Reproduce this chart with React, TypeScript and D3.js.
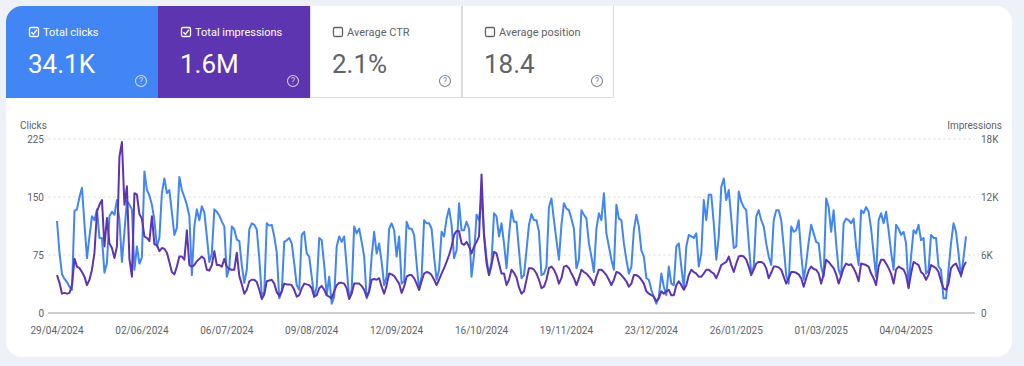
import React from "react";
import * as d3 from "d3";

const W = 1024;
const H = 366;

const startDateStr = "2024-04-29";

const clicks = [
  119, 78, 50, 44, 40, 34, 30, 132, 134, 150, 162, 115, 71, 99, 125, 120, 134, 97, 97, 52,
  65, 125, 131, 127, 146, 120, 66, 105, 145, 140, 134, 56, 86, 64, 72, 183, 159, 152, 140, 120,
  86, 97, 155, 174, 155, 159, 130, 101, 110, 176, 159, 150, 140, 125, 49, 112, 134, 120, 138, 130,
  99, 66, 77, 134, 131, 126, 118, 112, 47, 58, 112, 108, 95, 93, 62, 39, 56, 108, 116, 114,
  108, 71, 23, 27, 116, 113, 114, 99, 78, 19, 28, 92, 94, 97, 90, 64, 36, 30, 101, 105,
  77, 73, 47, 21, 34, 97, 94, 62, 23, 47, 12, 21, 86, 99, 92, 99, 60, 19, 30, 112,
  103, 109, 92, 73, 19, 28, 73, 105, 77, 90, 66, 36, 47, 109, 116, 107, 73, 99, 38, 41,
  118, 109, 109, 101, 64, 30, 47, 120, 116, 116, 109, 73, 43, 56, 105, 99, 122, 135, 114, 71,
  81, 142, 107, 107, 118, 109, 47, 75, 127, 120, 150, 103, 71, 49, 66, 129, 125, 99, 116, 90,
  58, 100, 133, 118, 118, 81, 45, 49, 81, 114, 128, 120, 120, 105, 49, 51, 60, 137, 148, 120,
  94, 69, 114, 142, 135, 133, 122, 109, 58, 69, 133, 127, 122, 90, 73, 53, 109, 129, 120, 155,
  103, 86, 69, 56, 140, 122, 120, 90, 69, 51, 60, 107, 127, 112, 81, 73, 45, 43, 30, 21,
  12, 21, 51, 34, 23, 60, 38, 36, 86, 90, 60, 32, 86, 101, 99, 97, 103, 60, 77, 146,
  120, 153, 153, 116, 69, 99, 163, 174, 146, 159, 122, 84, 86, 157, 144, 137, 133, 90, 51, 60,
  125, 133, 120, 112, 90, 73, 62, 120, 133, 133, 120, 86, 49, 38, 112, 105, 107, 120, 77, 43,
  64, 92, 114, 103, 92, 90, 60, 47, 148, 137, 105, 133, 90, 56, 47, 116, 122, 120, 116, 122,
  86, 62, 133, 129, 137, 131, 109, 77, 47, 120, 129, 116, 131, 107, 79, 56, 114, 109, 101, 105,
  90, 34, 73, 107, 103, 114, 94, 97, 51, 55, 101, 97, 97, 60, 56, 19, 19, 56, 90, 116,
  105, 77, 47, 71, 99,
];

const impressions = [
  3920, 3120, 2000, 2080, 2000, 2080, 2880, 5600, 4800, 4640, 4240, 3760, 2880, 3440, 4480, 6240, 10480, 11200, 11680, 6880,
  9840, 7200, 6720, 5680, 6880, 16160, 17680, 11200, 13120, 5600, 3760, 12400, 12240, 10240, 9760, 7920, 7760, 7440, 10000, 7120,
  7040, 6400, 6720, 6640, 6240, 5280, 4240, 4000, 4800, 5840, 5840, 5520, 8560, 4960, 4800, 4960, 5360, 5600, 5840, 5600,
  4480, 4400, 4960, 6400, 4960, 4960, 4800, 5600, 4800, 4560, 4480, 4480, 6240, 3840, 2960, 2000, 2400, 3280, 3440, 3440,
  3200, 2400, 1440, 1920, 3280, 3360, 3440, 3040, 2160, 1760, 2240, 3040, 2960, 2960, 2880, 2400, 1680, 1840, 2560, 3040,
  2960, 2880, 2560, 1680, 1840, 2560, 2800, 2400, 1840, 1680, 1520, 2240, 2880, 3120, 3120, 3040, 2560, 1440, 2000, 3040,
  3040, 3040, 2800, 2400, 1680, 2240, 3440, 3520, 3440, 3600, 2720, 2000, 2880, 4080, 4000, 3840, 3440, 3040, 2080, 2720,
  3760, 3920, 3920, 3600, 3040, 2400, 3280, 4080, 4240, 4160, 3920, 3440, 2880, 3440, 4080, 4640, 5280, 6000, 6880, 8080,
  8480, 8480, 7200, 7040, 7360, 6880, 6160, 6880, 7360, 7920, 14320, 7920, 5120, 3920, 4960, 6320, 6160, 5120, 4080, 4080,
  2880, 3440, 4480, 4160, 3680, 2640, 2000, 2240, 3440, 4640, 4640, 4480, 4080, 3440, 2560, 2720, 3440, 4640, 4800, 4480,
  3920, 3040, 3600, 4800, 4880, 4640, 4080, 3600, 2880, 3600, 4480, 4240, 4080, 3760, 3440, 2880, 3760, 4480, 4480, 4240,
  3920, 3440, 2880, 3440, 4240, 4160, 3920, 3600, 3280, 2720, 3040, 3920, 3920, 3760, 3440, 3040, 2240, 2000, 1840, 1680,
  1200, 1520, 2240, 2000, 2240, 2400, 1840, 1840, 2880, 3280, 2880, 2400, 2880, 3920, 4480, 4240, 4080, 3760, 3760, 4080,
  4480, 4480, 4240, 4080, 3600, 4240, 4960, 5120, 5280, 5840, 4960, 4240, 5120, 5840, 5920, 5840, 5520, 4800, 3920, 4480,
  5120, 5280, 5280, 5120, 4640, 3600, 4160, 4800, 4800, 4720, 4480, 3760, 3040, 3600, 4240, 4240, 4160, 4000, 3600, 2720,
  3600, 4400, 4800, 4560, 4480, 4080, 3040, 4000, 5520, 5280, 4960, 4640, 4000, 3040, 3840, 4640, 5120, 4960, 5040, 4640,
  4080, 3280, 5120, 5040, 4960, 4800, 4080, 3600, 2880, 4800, 5520, 5520, 5120, 4640, 4080, 3040, 4480, 4800, 4640, 4480,
  3920, 2560, 4080, 5280, 5120, 4960, 4240, 4000, 3440, 3920, 4960, 4800, 4640, 4240, 3280, 2560, 2400, 3040, 4640, 4960,
  5120, 4480, 3920, 4800, 5280,
];

const xTickLabels = [
  "29/04/2024", "02/06/2024", "06/07/2024", "09/08/2024", "12/09/2024", "16/10/2024",
  "19/11/2024", "23/12/2024", "26/01/2025", "01/03/2025", "04/04/2025",
];
const clickTicks = [0, 75, 150, 225];
const impressionTicks = [0, 6000, 12000, 18000];

const metricLabels = ["Total clicks", "Total impressions", "Average CTR", "Average position"];
const metricValues = ["34.1K", "1.6M", "2.1%", "18.4"];
const metricChecked = [true, true, false, false];
const metricColors = ["#4285f4", "#5e35b1", "#ffffff", "#ffffff"];

const BLUE = "#4285f4";
const PURPLE = "#5e35b1";
const GRAY = "#5f6368";
const FONT = "Roboto, 'Noto Sans', sans-serif";

const DAY = 86400000;
const start = new Date(startDateStr + "T00:00:00Z").getTime();
const dates = clicks.map((_, i) => new Date(start + i * DAY));
const parseTick = (s: string) => {
  const [dd, mm, yy] = s.split("/").map(Number);
  return new Date(Date.UTC(yy, mm - 1, dd));
};

const plot = { left: 57, right: 966, top: 139, bottom: 313 };

export default function App() {
  const x = d3
    .scaleUtc()
    .domain([dates[0], dates[dates.length - 1]])
    .range([plot.left, plot.right]);
  const yL = d3.scaleLinear().domain([0, 225]).range([plot.bottom, plot.top]);
  const yR = d3.scaleLinear().domain([0, 18000]).range([plot.bottom, plot.top]);

  const clickLine = d3
    .line<number>()
    .x((_, i) => x(dates[i]))
    .y((d) => yL(d))
    .curve(d3.curveLinear);
  const imprLine = d3
    .line<number>()
    .x((_, i) => x(dates[i]))
    .y((d) => yR(d))
    .curve(d3.curveLinear);

  const fmtK = (v: number) => (v === 0 ? "0" : `${v / 1000}K`);

  const tileW = 152;
  const tileX0 = 6;
  const cardX = 6, cardY = 6, cardW = 1006, cardH = 351, r = 16;

  return (
    <svg
      width={W}
      height={H}
      style={{ position: "absolute", left: 0, top: 0, display: "block" }}
      fontFamily={FONT}
    >
      <defs>
        <clipPath id="cardClip">
          <rect x={cardX} y={cardY} width={cardW} height={cardH} rx={r} ry={r} />
        </clipPath>
      </defs>
      <rect x={0} y={0} width={W} height={H} fill="#eef2f8" />
      <rect x={cardX} y={cardY} width={cardW} height={cardH} rx={r} ry={r} fill="#ffffff" />

      <g clipPath="url(#cardClip)">
        {metricLabels.map((label, i) => {
          const tx = tileX0 + i * tileW;
          const checked = metricChecked[i];
          const fg = checked ? "#ffffff" : GRAY;
          const helpColor = checked ? "rgba(255,255,255,0.75)" : "#80868b";
          return (
            <g key={label}>
              <rect x={tx} y={cardY} width={tileW} height={92} fill={metricColors[i]} />
              {!checked && (
                <rect
                  x={tx + 0.5}
                  y={cardY - 1}
                  width={tileW - 1}
                  height={92.5}
                  fill="none"
                  stroke="#dadce0"
                  strokeWidth={1}
                />
              )}
              <rect
                x={tx + 23.5}
                y={27.5}
                width={9}
                height={9}
                rx={1.5}
                fill="none"
                stroke={fg}
                strokeWidth={1.3}
              />
              {checked && (
                <path
                  d={`M${tx + 25.3},${32.2} L${tx + 27.4},${34.3} L${tx + 30.9},${29.8}`}
                  fill="none"
                  stroke="#ffffff"
                  strokeWidth={1.4}
                />
              )}
              <text x={tx + 37} y={36} fontSize={11} fill={fg}>
                {label}
              </text>
              <text x={tx + 22} y={73} fontSize={26} fill={fg} fontWeight={400}>
                {metricValues[i]}
              </text>
              <circle cx={tx + 135} cy={81} r={5.5} fill="none" stroke={helpColor} strokeWidth={1.1} />
              <text x={tx + 135} y={84.2} fontSize={8.5} textAnchor="middle" fill={helpColor}>
                ?
              </text>
            </g>
          );
        })}
      </g>

      {/* axis titles */}
      <text x={20} y={129} fontSize={10} fill={GRAY}>
        Clicks
      </text>
      <text x={1002} y={129} fontSize={10} fill={GRAY} textAnchor="end">
        Impressions
      </text>

      {/* grid lines */}
      {clickTicks.map((t) => (
        <g key={"g" + t}>
          {t !== 0 && (
            <line
              x1={48}
              x2={975}
              y1={yL(t)}
              y2={yL(t)}
              stroke="#e2e2e2"
              strokeWidth={1}
              strokeDasharray="3 2"
            />
          )}
          <text x={44} y={yL(t) + 3.5} fontSize={10} fill={GRAY} textAnchor="end">
            {t}
          </text>
        </g>
      ))}
      {impressionTicks.map((t) => (
        <text key={"r" + t} x={981} y={yR(t) + 3.5} fontSize={10} fill={GRAY}>
          {fmtK(t)}
        </text>
      ))}
      <line x1={48} x2={975} y1={plot.bottom} y2={plot.bottom} stroke="#bdbdbd" strokeWidth={1.5} />

      {xTickLabels.map((s) => (
        <text key={s} x={x(parseTick(s))} y={334} fontSize={10} fill={GRAY} textAnchor="middle">
          {s}
        </text>
      ))}

      <path d={clickLine(clicks) || ""} fill="none" stroke={BLUE} strokeWidth={2} strokeLinejoin="round" />
      <path d={imprLine(impressions) || ""} fill="none" stroke={PURPLE} strokeWidth={2} strokeLinejoin="round" />
    </svg>
  );
}
